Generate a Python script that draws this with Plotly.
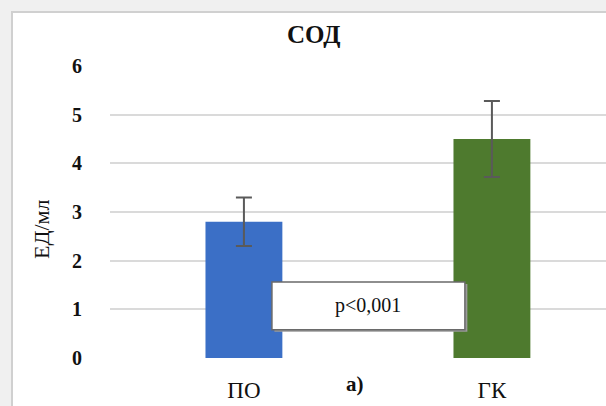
import plotly.graph_objects as go

categories = ["ПО", "ГК"]
values = [2.80, 4.50]
errors = [0.50, 0.78]
colors = ["#3b6fc6", "#4e7a2e"]
y_ticks = [0, 1, 2, 3, 4, 5, 6]
title_text = "СОД"
y_label = "ЕД/мл"
p_text = "p<0,001"
panel_label = "а)"

FONT = "'Liberation Serif', 'DejaVu Serif', serif"

fig = go.Figure()
fig.add_trace(go.Bar(
    x=[0, 1], y=values, width=0.31,
    marker=dict(color=colors, line=dict(width=0)),
    error_y=dict(type="data", array=errors, visible=True,
                 color="#5a5a5a", thickness=2, width=8),
    showlegend=False,
))

# outer frame (white chart area on gray background)
fig.add_shape(type="rect", xref="paper", yref="paper",
              x0=-98/496, x1=1.2, y0=-0.5, y1=(358-12)/292,
              fillcolor="white", line=dict(color="#d0d0d0", width=2), layer="below")

# p-value box with shadow
fig.add_shape(type="rect", x0=0.123, x1=0.901, y0=0.54, y1=1.52,
              fillcolor="#9a9a9a", line=dict(width=0))
fig.add_shape(type="rect", x0=0.113, x1=0.891, y0=0.58, y1=1.56,
              fillcolor="white", line=dict(color="#6a6a6a", width=1.5))
fig.add_annotation(x=0.502, y=1.07, text=p_text, showarrow=False,
                   xanchor="center", yanchor="middle",
                   font=dict(family=FONT, size=20, color="#111"))

fig.add_annotation(x=0.448, xref="x", y=(358-384)/292, yref="paper",
                   text="<b>" + panel_label + "</b>", showarrow=False,
                   xanchor="center", yanchor="middle",
                   font=dict(family=FONT, size=21, color="#111"))

fig.add_annotation(x=(41-110)/496, xref="paper", y=(358-230)/292, yref="paper",
                   text=y_label, textangle=-90, showarrow=False,
                   xanchor="center", yanchor="middle",
                   font=dict(family=FONT, size=22, color="#111"))

fig.add_annotation(x=(313-110)/496, xref="paper", y=(358-34)/292, yref="paper",
                   text="<b>" + title_text + "</b>", showarrow=False,
                   xanchor="center", yanchor="middle",
                   font=dict(family=FONT, size=25, color="#111"))

fig.update_layout(
    width=606, height=406,
    margin=dict(l=110, r=0, t=66, b=48),
    paper_bgcolor="#f0f0f0", plot_bgcolor="rgba(0,0,0,0)",
    bargap=0.5,
    xaxis=dict(range=[-0.54, 1.46], tickmode="array", tickvals=[0, 1],
               ticktext=categories, showgrid=False, zeroline=False,
               showline=False, ticks="", ticklabelstandoff=16,
               tickfont=dict(family=FONT, size=23, color="#111")),
    yaxis=dict(range=[0, 6], tickmode="array", tickvals=y_ticks,
               ticktext=["<b>%d</b>" % v for v in y_ticks],
               showgrid=True, gridcolor="#dadada", gridwidth=2,
               zeroline=False, showline=False, ticks="",
               ticklabelstandoff=27,
               tickfont=dict(family=FONT, size=20, color="#111")),
)

fig.write_html("out.html", config={"displayModeBar": False},
               post_script="document.body.style.margin='0';document.body.style.overflow='hidden';")
